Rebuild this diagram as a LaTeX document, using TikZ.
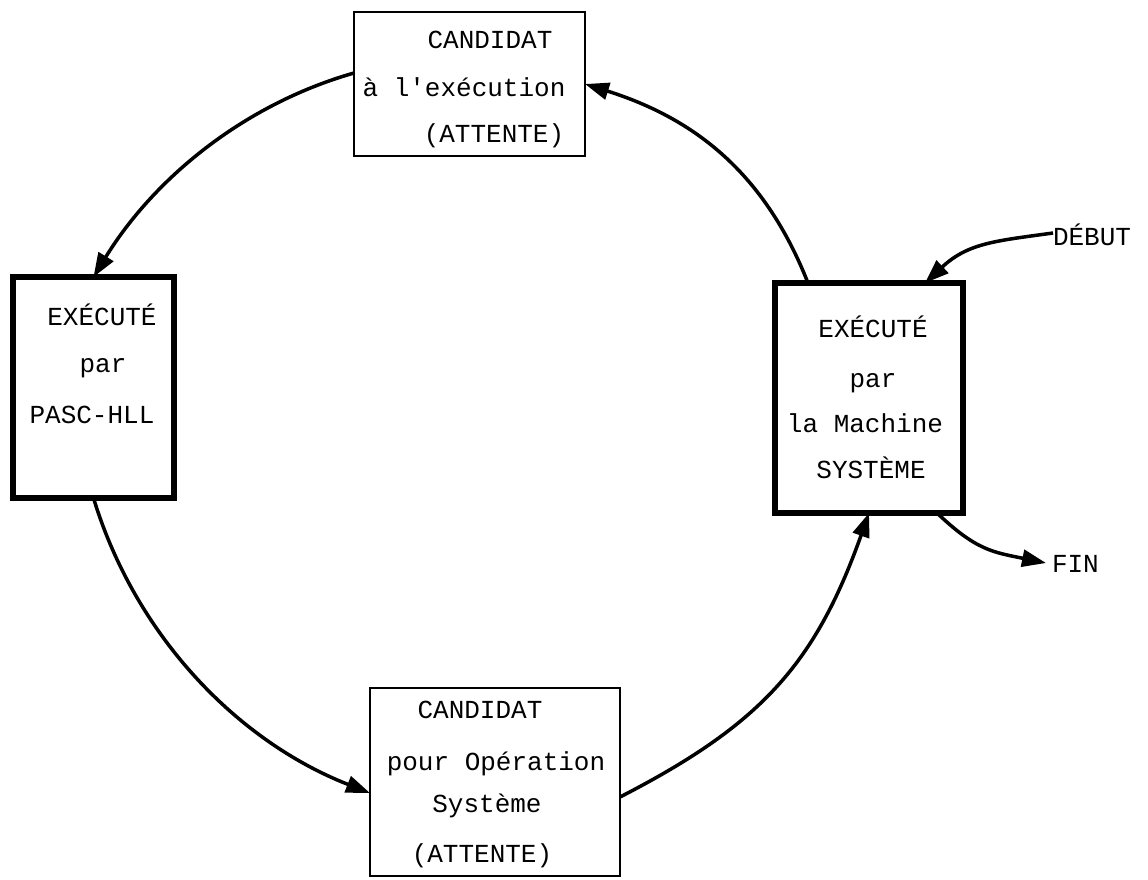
\documentclass[tikz,border=0pt]{standalone}
\usepackage{fontspec}
\setmonofont{Liberation Mono}
\usetikzlibrary{arrows.meta}
\tikzset{
  thinbox/.style={draw, line width=2.8pt, inner sep=0pt, outer sep=0pt},
  thickbox/.style={draw, line width=5.5pt, inner sep=0pt, outer sep=0pt},
  lbl/.style={inner sep=0pt, outer sep=0pt, anchor=base, font=\ttfamily\fontsize{26}{31}\selectfont},
  arr/.style={line width=3.5pt, -{Triangle[length=24pt,width=17pt]}}
}
\begin{document}
\begin{tikzpicture}[x=1pt,y=-1pt]
\useasboundingbox (0,0) rectangle (1148,879);
% boxes
\node[thinbox, minimum width=231pt, minimum height=144pt] (T) at (469.5,84) {};
\node[thickbox, minimum width=161pt, minimum height=221pt] (L) at (93.5,387.5) {};
\node[thickbox, minimum width=188pt, minimum height=230pt] (R) at (869,398) {};
\node[thinbox, minimum width=250pt, minimum height=188pt] (B) at (495,782) {};
% texts top box
\node[lbl] (t1) at (490,48) {CANDIDAT};
\node[lbl] (t2) at (464,96) {à l'exécution};
\node[lbl] (t3) at (494,142) {(ATTENTE)};
% texts left box
\node[lbl] (l1) at (102,325) {EXÉCUTÉ};
\node[lbl] (l2) at (103,372) {par};
\node[lbl] (l3) at (92,423) {PASC-HLL};
% texts right box
\node[lbl] (r1) at (873,337) {EXÉCUTÉ};
\node[lbl] (r2) at (873,387) {par};
\node[lbl] (r3) at (865,432) {la Machine};
\node[lbl] (r4) at (871,478) {SYSTÈME};
% texts bottom box
\node[lbl] (b1) at (480,718) {CANDIDAT};
\node[lbl] (b2) at (496,770) {pour Opération};
\node[lbl] (b3) at (487,812) {Système};
\node[lbl] (b4) at (482,862) {(ATTENTE)};
% outside labels
\node[lbl, anchor=base west] (D) at (1053,245) {DÉBUT};
\node[lbl, anchor=base west] (F) at (1052,572) {FIN};
% connectors
\draw[arr] ([xshift=33pt]R.north west) .. controls (765,174) and (696,119) .. (T.east);
\draw[arr] ([yshift=11pt]T.west) .. controls (242,105) and (153,180) .. (L.north);
\draw[arr] (L.south) .. controls (135,635) and (237,741) .. ([yshift=-11pt]B.west);
\draw[arr] ([yshift=-15pt]B.east) .. controls (760,725) and (815,665) .. (R.south);
\draw[arr] ([yshift=12pt]D.base west) .. controls (995,241) and (968,243) .. ([xshift=56pt]R.north);
\draw[arr] ([xshift=68pt]R.south) .. controls (976,550) and (992,552) .. ([xshift=-6pt,yshift=9pt]F.base west);
\end{tikzpicture}
\end{document}
